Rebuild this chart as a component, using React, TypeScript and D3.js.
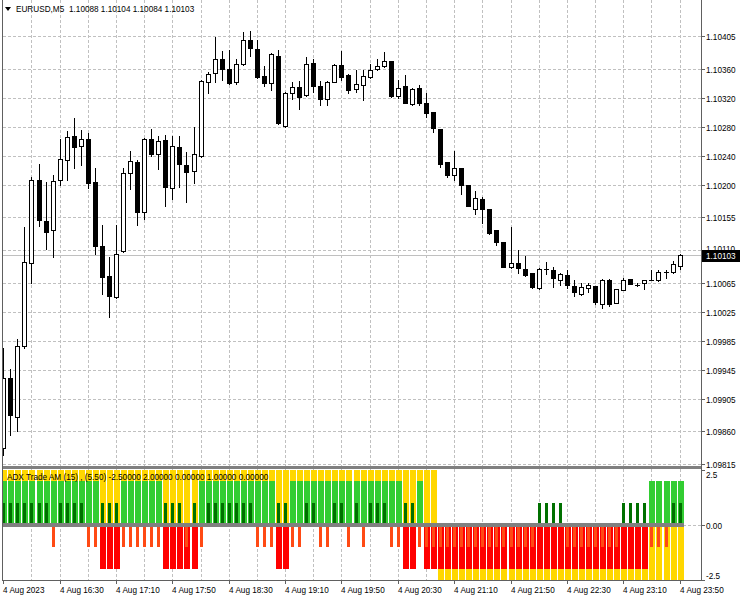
import React from "react";
import * as d3 from "d3";

// ---------- DATA ----------
const symbolLabel = "EURUSD,M5";
const headerValues = "1.10088 1.10104 1.10084 1.10103";
const indicatorLabel = "ADX Trade AM (15) , (5.50) -2.50000 2.00000 0.00000 1.00000 0.00000";
const bidPrice = 1.10103;

const times = [
  "15:50","15:55","16:00","16:05","16:10","16:15","16:20","16:25",
  "16:30","16:35","16:40","16:45","16:50","16:55","17:00","17:05",
  "17:10","17:15","17:20","17:25","17:30","17:35","17:40","17:45",
  "17:50","17:55","18:00","18:05","18:10","18:15","18:20","18:25",
  "18:30","18:35","18:40","18:45","18:50","18:55","19:00","19:05",
  "19:10","19:15","19:20","19:25","19:30","19:35","19:40","19:45",
  "19:50","19:55","20:00","20:05","20:10","20:15","20:20","20:25",
  "20:30","20:35","20:40","20:45","20:50","20:55","21:00","21:05",
  "21:10","21:15","21:20","21:25","21:30","21:35","21:40","21:45",
  "21:50","21:55","22:00","22:05","22:10","22:15","22:20","22:25",
  "22:30","22:35","22:40","22:45","22:50","22:55","23:00","23:05",
  "23:10","23:15","23:20","23:25","23:30","23:35","23:40","23:45",
  "23:50"
];

const opens = [
  1.09837,1.09934,1.09880,1.09977,1.10092,1.10206,1.10150,1.10137,1.10206,1.10234,
  1.10267,1.10253,1.10263,1.10204,1.10115,1.10074,1.10045,1.10108,1.10216,1.10231,
  1.10163,1.10263,1.10242,1.10262,1.10196,1.10252,1.10227,1.10219,1.10240,1.10341,
  1.10354,1.10373,1.10360,1.10341,1.10366,1.10400,1.10387,1.10350,1.10340,1.10377,
  1.10281,1.10327,1.10335,1.10323,1.10368,1.10336,1.10318,1.10342,1.10365,1.10351,
  1.10332,1.10337,1.10348,1.10359,1.10363,1.10370,1.10322,1.10336,1.10311,1.10334,
  1.10313,1.10300,1.10277,1.10231,1.10213,1.10223,1.10199,1.10166,1.10180,1.10166,
  1.10137,1.10121,1.10086,1.10092,1.10084,1.10078,1.10057,1.10084,1.10082,1.10069,
  1.10076,1.10060,1.10050,1.10057,1.10061,1.10036,1.10069,1.10037,1.10055,1.10070,
  1.10062,1.10064,1.10068,1.10068,1.10080,1.10079,1.10088
];
const highs = [
  1.09975,1.09946,1.09987,1.10142,1.10211,1.10229,1.10204,1.10213,1.10263,1.10274,
  1.10292,1.10276,1.10271,1.10223,1.10144,1.10100,1.10144,1.10223,1.10247,1.10234,
  1.10264,1.10277,1.10267,1.10269,1.10267,1.10267,1.10245,1.10279,1.10345,1.10356,
  1.10404,1.10384,1.10386,1.10373,1.10410,1.10412,1.10400,1.10363,1.10382,1.10386,
  1.10328,1.10342,1.10343,1.10376,1.10373,1.10343,1.10343,1.10367,1.10384,1.10352,
  1.10358,1.10358,1.10367,1.10373,1.10383,1.10371,1.10345,1.10351,1.10333,1.10337,
  1.10326,1.10300,1.10277,1.10231,1.10246,1.10223,1.10199,1.10192,1.10183,1.10166,
  1.10137,1.10121,1.10142,1.10110,1.10102,1.10078,1.10085,1.10094,1.10087,1.10078,
  1.10082,1.10069,1.10065,1.10064,1.10061,1.10070,1.10070,1.10056,1.10072,1.10070,
  1.10065,1.10068,1.10082,1.10082,1.10082,1.10095,1.10104
];
const lows = [
  1.09827,1.09855,1.09860,1.09975,1.10065,1.10143,1.10112,1.10101,1.10200,1.10207,
  1.10223,1.10227,1.10196,1.10104,1.10050,1.10017,1.10044,1.10107,1.10194,1.10145,
  1.10153,1.10239,1.10221,1.10171,1.10180,1.10197,1.10176,1.10202,1.10238,1.10327,
  1.10342,1.10345,1.10339,1.10339,1.10365,1.10377,1.10347,1.10336,1.10330,1.10284,
  1.10280,1.10318,1.10305,1.10322,1.10328,1.10310,1.10310,1.10341,1.10345,1.10327,
  1.10328,1.10317,1.10347,1.10358,1.10362,1.10321,1.10320,1.10312,1.10310,1.10310,
  1.10294,1.10272,1.10224,1.10211,1.10206,1.10187,1.10170,1.10160,1.10147,1.10132,
  1.10117,1.10086,1.10085,1.10078,1.10074,1.10058,1.10056,1.10077,1.10059,1.10062,
  1.10057,1.10047,1.10048,1.10052,1.10036,1.10030,1.10033,1.10037,1.10055,1.10063,
  1.10061,1.10056,1.10068,1.10067,1.10072,1.10078,1.10084
];
const closes = [
  1.09934,1.09883,1.09977,1.10093,1.10206,1.10152,1.10135,1.10205,1.10235,1.10266,
  1.10252,1.10263,1.10203,1.10116,1.10073,1.10046,1.10105,1.10216,1.10232,1.10163,
  1.10263,1.10243,1.10260,1.10197,1.10254,1.10228,1.10217,1.10242,1.10343,1.10353,
  1.10373,1.10359,1.10340,1.10367,1.10400,1.10388,1.10348,1.10340,1.10380,1.10285,
  1.10327,1.10335,1.10321,1.10367,1.10336,1.10318,1.10342,1.10365,1.10349,1.10331,
  1.10339,1.10350,1.10358,1.10364,1.10371,1.10322,1.10334,1.10313,1.10332,1.10312,
  1.10299,1.10278,1.10229,1.10213,1.10223,1.10199,1.10171,1.10182,1.10167,1.10133,
  1.10121,1.10087,1.10092,1.10085,1.10075,1.10059,1.10084,1.10084,1.10072,1.10077,
  1.10062,1.10052,1.10059,1.10062,1.10038,1.10069,1.10036,1.10056,1.10069,1.10063,
  1.10062,1.10068,1.10069,1.10079,1.10080,1.10091,1.10103
];

// ADX Trade AM buffers
const adxTrend = [
  2.5,2.5,2.5,2.5,2.5,2.5,2.5,2.5,2.5,2.5,2.5,2.5,2.5,2.5,2.5,2.5,2.5,2.5,2.5,2.5,
  2.5,2.5,2.5,2.5,2.5,2.5,2.5,2.5,2.5,2.5,2.5,2.5,2.5,2.5,2.5,2.5,2.5,2.5,2.5,2.5,
  2.5,2.5,2.5,2.5,2.5,2.5,2.5,2.5,2.5,2.5,2.5,2.5,2.5,2.5,2.5,2.5,2.5,2.5,2.5,2.5,
  2.5,2.5,-2.5,-2.5,-2.5,-2.5,-2.5,-2.5,-2.5,-2.5,-2.5,-2.5,-2.5,-2.5,-2.5,-2.5,-2.5,-2.5,-2.5,-2.5,
  -2.5,-2.5,-2.5,-2.5,-2.5,-2.5,-2.5,-2.5,-2.5,-2.5,-2.5,-2.5,-2.5,-2.5,-2.5,-2.5,-2.5
];
const adxStrength = [
  2,2,2,2,2,2,2,2,2,2,2,2,2,2,-2,-2,-2,2,2,2,
  2,2,2,-2,-2,-2,-2,-2,2,2,2,2,2,2,2,2,2,2,2,-2,
  -2,2,2,2,2,2,2,2,2,2,2,2,2,2,2,2,2,-2,-2,2,
  -2,-2,-2,-2,-2,-2,-2,-2,-2,-2,-2,-2,-2,-2,-2,-2,-2,-2,-2,-2,
  -2,-2,-2,-2,-2,-2,-2,-2,-2,-2,-2,-2,2,2,2,2,2
];
const adxSignal = [
  1,1,1,1,1,1,1,-1,1,1,1,1,-1,-1,1,1,1,-1,-1,-1,
  -1,-1,-1,1,1,1,-1,1,-1,1,1,1,1,1,1,1,-1,-1,-1,1,
  1,-1,-1,1,1,-1,-1,1,1,-1,1,-1,1,1,1,-1,-1,1,1,-1,
  -1,-1,-1,-1,-1,-1,-1,-1,-1,-1,-1,-1,-1,-1,-1,-1,1,1,1,1,
  -1,-1,-1,-1,-1,-1,-1,-1,1,1,1,1,-1,-1,-1,1,1
];

const priceTicks = [1.10405,1.10360,1.10320,1.10280,1.10240,1.10200,1.10155,1.10110,1.10065,1.10025,1.09985,1.09945,1.09905,1.09860,1.09815];
const indicatorTicks = [2.5, 0, -2.5];
const indicatorTickLabels = ["2.5", "0.00", "-2.5"];
const gridTimes = ["16:10","16:30","16:50","17:10","17:30","17:50","18:10","18:30","18:50","19:10","19:30","19:50","20:10","20:30","20:50","21:10","21:30","21:50","22:10","22:30","22:50","23:10","23:30","23:50"];
const labelTimes = ["15:50","16:30","17:10","17:50","18:30","19:10","19:50","20:30","21:10","21:50","22:30","23:10","23:50"];
const labelTexts = ["4 Aug 2023","4 Aug 16:30","4 Aug 17:10","4 Aug 17:50","4 Aug 18:30","4 Aug 19:10","4 Aug 19:50","4 Aug 20:30","4 Aug 21:10","4 Aug 21:50","4 Aug 22:30","4 Aug 23:10","4 Aug 23:50"];

// ---------- LAYOUT ----------
const W = 741, H = 600;
const L = 3, R = 701;
const P_TOP = 0, P_BOT = 466;
const I_TOP = 469, I_BOT = 580;
const FONT = "'Liberation Sans', Arial, sans-serif";
const FS = 8.2;
const GRID = "#c0c0c0";
const DASH = "3,2";

export default function App() {
  const x = d3.scalePoint<string>().domain(times).range([3.3, 679.6]);
  const y = d3.scaleLinear().domain([1.09815, 1.10405]).range([464, 36]);
  const iy = d3.scaleLinear().domain([-2.5, 2.5]).range([I_BOT, I_TOP + 1]);
  const cxOf = (t: string) => Math.round(x(t) as number);
  const ry = (v: number) => Math.round(y(v));
  const yz = Math.round(iy(0));

  return (
    <svg width={W} height={H} style={{ position: "absolute", left: 0, top: 0, background: "#fff" }}
      fontFamily={FONT} fontSize={FS}>
      <defs>
        <clipPath id="pclip"><rect x={L} y={P_TOP} width={R - L} height={P_BOT - P_TOP} /></clipPath>
        <clipPath id="iclip"><rect x={L} y={I_TOP} width={R - L} height={I_BOT - I_TOP} /></clipPath>
      </defs>
      <rect x={0} y={0} width={W} height={H} fill="#fff" />

      {/* price panel */}
      <g clipPath="url(#pclip)" shapeRendering="crispEdges">
        {priceTicks.map((p) => (
          <line key={"h" + p} x1={L} x2={R} y1={ry(p) + 0.5} y2={ry(p) + 0.5} stroke={GRID} strokeDasharray={DASH} />
        ))}
        {gridTimes.map((t) => (
          <line key={"v" + t} x1={cxOf(t) + 0.5} x2={cxOf(t) + 0.5} y1={P_TOP} y2={P_BOT} stroke={GRID} strokeDasharray={DASH} />
        ))}
        <line x1={L} x2={R} y1={ry(bidPrice) + 0.5} y2={ry(bidPrice) + 0.5} stroke="#c0c0c0" />
        {times.map((t, i) => {
          const cx = cxOf(t);
          const o = opens[i], c = closes[i];
          const top = ry(Math.max(o, c)), bot = ry(Math.min(o, c));
          const bull = c > o;
          return (
            <g key={"c" + t}>
              <line x1={cx + 0.5} x2={cx + 0.5} y1={ry(highs[i])} y2={ry(lows[i]) + 1} stroke="#000" />
              {bot - top >= 1 ? (
                <rect x={cx - 1.5} y={top + 0.5} width={4} height={bot - top} fill={bull ? "#fff" : "#000"} stroke="#000" />
              ) : (
                <line x1={cx - 2} x2={cx + 3} y1={top + 0.5} y2={top + 0.5} stroke="#000" />
              )}
            </g>
          );
        })}
      </g>
      <path d="M5,7 L11,7 L8,11 Z" fill="#000" />
      <text x={16} y={12}>{symbolLabel}</text>
      <text x={69} y={12}>{headerValues}</text>

      {/* indicator panel */}
      <g clipPath="url(#iclip)" shapeRendering="crispEdges">
        {gridTimes.map((t) => (
          <line key={"iv" + t} x1={cxOf(t) + 0.5} x2={cxOf(t) + 0.5} y1={I_TOP} y2={I_BOT} stroke={GRID} strokeDasharray={DASH} />
        ))}
        <line x1={L} x2={R} y1={yz + 0.5} y2={yz + 0.5} stroke={GRID} strokeDasharray={DASH} />
        {times.map((t, i) => {
          const cx = cxOf(t);
          const v = adxTrend[i];
          const a = Math.round(iy(v));
          return <rect key={"yt" + t} x={cx - 2} width={6} y={Math.min(a, yz)} height={Math.abs(a - yz)} fill="#ffd700" />;
        })}
        {times.map((t, i) => {
          const cx = cxOf(t);
          const v = adxStrength[i];
          const a = Math.round(iy(v));
          return <rect key={"st" + t} x={cx - 2} width={6} y={Math.min(a, yz)} height={Math.abs(a - yz)} fill={v > 0 ? "#32cd32" : "#ff0000"} />;
        })}
        {times.map((t, i) => {
          const cx = cxOf(t);
          const v = adxSignal[i];
          const a = Math.round(iy(v));
          return <rect key={"sg" + t} x={cx - 1} width={3} y={Math.min(a, yz)} height={Math.abs(a - yz)} fill={v > 0 ? "#007000" : "#ff4a14"} />;
        })}
        <rect x={L} y={yz - 2} width={cxOf(times[times.length - 1]) + 4 - L} height={4} fill="#808080" />
      </g>
      <text x={7} y={479.5}>{indicatorLabel}</text>

      {/* frames */}
      <g shapeRendering="crispEdges">
        <rect x={L} y={P_BOT} width={R - L + 1} height={3} fill="#808080" />
        <line x1={L - 0.5} x2={L - 0.5} y1={0} y2={I_BOT + 1} stroke="#606060" />
        <line x1={R + 0.5} x2={R + 0.5} y1={0} y2={I_BOT + 1} stroke="#606060" />
        <line x1={L} x2={R + 1} y1={I_BOT + 0.5} y2={I_BOT + 0.5} stroke="#606060" />
        {priceTicks.map((p) => (
          <line key={"pt" + p} x1={R + 1} x2={R + 4} y1={ry(p) + 0.5} y2={ry(p) + 0.5} stroke="#606060" />
        ))}
        {indicatorTicks.map((v) => (
          <line key={"it" + v} x1={R + 1} x2={R + 4} y1={Math.round(iy(v)) + 0.5} y2={Math.round(iy(v)) + 0.5} stroke="#606060" />
        ))}
        {labelTimes.map((t) => (
          <line key={"xt" + t} x1={cxOf(t) + 0.5} x2={cxOf(t) + 0.5} y1={I_BOT + 1} y2={I_BOT + 4} stroke="#606060" />
        ))}
      </g>

      {/* axis labels */}
      {priceTicks.map((p) => (
        <text key={"pl" + p} x={706} y={ry(p) + (p === 1.1011 ? 1.5 : 3.5)}>{p.toFixed(5)}</text>
      ))}
      <rect x={702} y={ry(bidPrice) - 5} width={38} height={12} fill="#000" />
      <text x={706} y={ry(bidPrice) + 3.5} fill="#fff">{bidPrice.toFixed(5)}</text>
      <text x={706} y={478}>{indicatorTickLabels[0]}</text>
      <text x={706} y={yz + 3.5}>{indicatorTickLabels[1]}</text>
      <text x={706} y={579}>{indicatorTickLabels[2]}</text>
      {labelTimes.map((t, i) => (
        <text key={"xl" + t} x={cxOf(t)} y={593}>{labelTexts[i]}</text>
      ))}
    </svg>
  );
}
